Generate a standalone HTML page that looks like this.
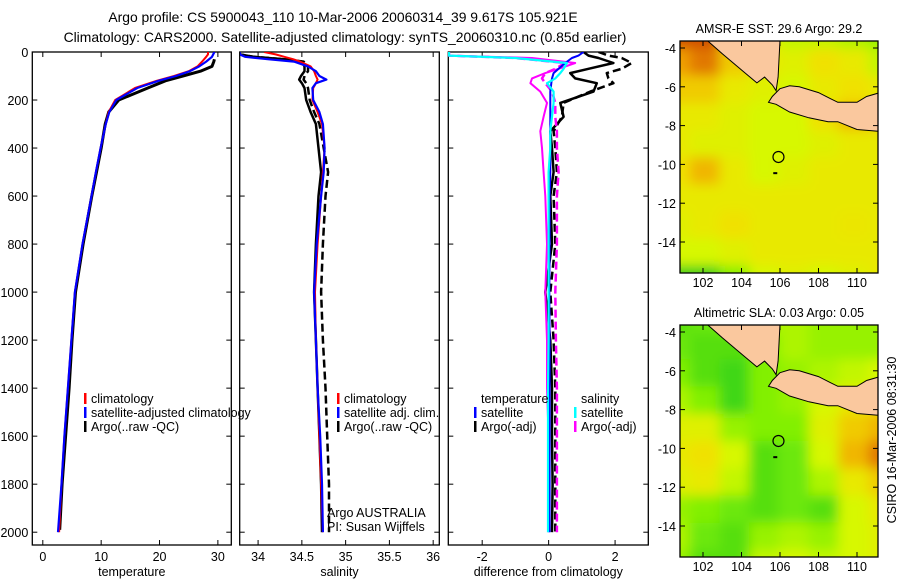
<!DOCTYPE html>
<html><head><meta charset="utf-8"><style>
html,body{margin:0;padding:0;background:#fff}
svg text{font-family:"Liberation Sans",sans-serif;fill:#000}
</style></head><body>
<svg id="fig" width="900" height="580" viewBox="0 0 900 580" xmlns="http://www.w3.org/2000/svg">
<defs>
<filter id="blur" x="-10%" y="-10%" width="120%" height="120%"><feGaussianBlur stdDeviation="6"/></filter>
<clipPath id="clipMap1"><rect x="680" y="41" width="198" height="232"/></clipPath>
<clipPath id="clipMap2"><rect x="680" y="325" width="198" height="232"/></clipPath>
<clipPath id="clipP1"><rect x="32" y="52" width="200" height="493"/></clipPath>
<clipPath id="clipP2"><rect x="240" y="52" width="200" height="493"/></clipPath>
<clipPath id="clipP3"><rect x="448" y="52" width="200" height="493"/></clipPath>
</defs>
<text x="343" y="22" font-size="13.9" text-anchor="middle">Argo profile: CS 5900043_110 10-Mar-2006 20060314_39 9.617S 105.921E</text>
<text x="345" y="42" font-size="13.9" text-anchor="middle">Climatology: CARS2000. Satellite-adjusted climatology: synTS_20060310.nc (0.85d earlier)</text>
<text transform="translate(896,440) rotate(-90)" font-size="12.5" text-anchor="middle">CSIRO 16-Mar-2006 08:31:30</text>
</svg>
<script>
// ---------- data ----------
const depthTicks = [0,200,400,600,800,1000,1200,1400,1600,1800,2000];
const tempTicks = [0,10,20,30];
const salTicks = [34,34.5,35,35.5,36];
const diffTicks = [-2,0,2];

const tDepth = [0,10,20,40,60,80,100,120,150,200,250,300,400,500,600,800,1000,1200,1400,1600,1800,2000];
const tClim =  [28.3,28.3,28.0,27.3,26.5,25.0,22.5,19.5,15.8,12.4,11.3,10.8,9.9,9.1,8.35,6.8,5.5,4.9,4.3,3.7,3.2,2.8];
const tSat =   [29.4,29.2,29.0,28.0,26.8,25.2,22.8,19.8,16.2,12.6,11.4,10.8,9.9,9.1,8.35,6.8,5.5,4.9,4.3,3.7,3.2,2.6];
const aDepth = [30,40,60,80,100,120,150,180,200,250,300,400,500,600,800,1000,1200,1400,1600,1800,1990];
const tArgo =  [29.4,29.3,29.0,27.0,24.0,21.0,18.0,15.0,13.0,11.3,10.7,10.0,9.2,8.4,6.9,5.6,5.0,4.5,3.9,3.3,2.9];

const sDepth = [0,10,20,30,40,60,80,100,115,130,150,200,250,300,400,500,600,800,1000,1200,1400,1600,1800,2000];
const sClim =  [34.07,34.20,34.30,34.40,34.48,34.60,34.64,34.66,34.68,34.66,34.63,34.62,34.68,34.73,34.76,34.74,34.72,34.68,34.65,34.66,34.68,34.70,34.72,34.74];
const sSat =   [33.79,33.79,33.85,34.11,34.41,34.57,34.66,34.70,34.78,34.66,34.62,34.63,34.70,34.74,34.76,34.75,34.72,34.67,34.64,34.66,34.68,34.71,34.73,34.74];
const sArgo =  [33.79,33.79,33.95,34.30,34.50,34.53,34.53,34.49,34.47,34.50,34.53,34.55,34.60,34.66,34.69,34.72,34.69,34.66,34.64,34.66,34.68,34.70,34.72,34.73];
const sArgoAdj=[33.79,33.79,33.95,34.30,34.52,34.57,34.57,34.53,34.52,34.55,34.57,34.59,34.64,34.70,34.75,34.80,34.77,34.74,34.72,34.74,34.77,34.79,34.81,34.81];

const dDepth = [0,15,25,46,70,88,110,130,165,212,270,330,400,500,600,800,1000,1200,1400,1600,1800,2000];
const dTempArgo =    [1.05,1.2,1.5,1.95,1.2,0.65,0.8,1.45,1.35,0.35,0.45,0.05,0.1,0.15,0.05,0.1,-0.1,0.05,0.1,0.1,0.12,0.1];
const dTempArgoAdj = [1.5,1.8,2.2,2.5,2.2,1.75,1.8,1.95,1.25,0.45,0.4,0.15,0.2,0.25,0.15,0.2,0.05,0.15,0.2,0.2,0.2,0.2];
const dTempSat =     [1.05,0.9,0.7,0.5,0.3,0.15,0.1,0.08,0.05,0.05,0.05,0.05,0.05,0.05,0.03,0.03,0.02,0.03,0.03,0.03,0.03,0.03];
const dSalSat =      [-3.0,-3.0,-1.0,0.55,0.45,0.35,0.2,-0.05,0.15,0.15,0.1,0.05,0.05,0.0,0.0,0.0,0.0,0.0,-0.02,-0.02,-0.02,-0.02];
const dSalArgo =     [-3.0,-3.0,-0.5,0.8,0.3,-0.1,-0.5,-0.55,-0.25,-0.05,-0.15,-0.25,-0.2,-0.15,-0.1,-0.05,-0.1,-0.05,-0.05,0.0,0.0,0.0];
const dSalArgoAdj =  [-3.0,-3.0,-1.0,0.5,0.2,-0.1,-0.2,-0.1,0.1,0.2,0.2,0.25,0.25,0.3,0.25,0.25,0.2,0.22,0.25,0.25,0.25,0.25];

const lonTicks = [102,104,106,108,110];
const latTicks = [-4,-6,-8,-10,-12,-14];
const sstGrid = [
 [.9,.9,.7,.6,.45,.45,.4,.35],
 [.8,.85,.7,.6,.55,.65,.6,.45],
 [.7,.7,.6,.55,.5,.6,.65,.6],
 [.6,.6,.55,.5,.5,.65,.75,.7],
 [.6,.55,.55,.5,.5,.55,.6,.6],
 [.65,.75,.6,.5,.55,.6,.6,.6],
 [.6,.6,.6,.6,.6,.6,.6,.6],
 [.55,.6,.65,.6,.6,.6,.62,.6],
 [.5,.5,.55,.6,.6,.6,.6,.6],
 [.1,.1,.3,.5,.55,.5,.55,.6]];
const slaGrid = [
 [.2,.25,.3,.4,.4,.35,.35,.35],
 [.25,.2,.2,.3,.4,.35,.35,.35],
 [.3,.2,.15,.3,.35,.4,.45,.5],
 [.4,.3,.15,.3,.35,.5,.6,.65],
 [.55,.55,.35,.3,.3,.55,.7,.75],
 [.6,.65,.5,.2,.25,.5,.75,.85],
 [.55,.6,.45,.2,.25,.4,.6,.7],
 [.35,.3,.25,.2,.25,.2,.5,.6],
 [.4,.25,.2,.35,.4,.35,.5,.55],
 [.35,.2,.2,.45,.5,.45,.5,.55]];
const sumatraLon = [102.2,103.0,104.2,104.8,105.2,105.6,105.8,105.9,106.0];
const sumatraLat = [-3.6,-4.3,-5.3,-5.8,-5.5,-5.9,-6.2,-5.5,-3.6];
const javaLon = [106.0,106.5,107.0,108.0,108.6,109.0,110.0,110.5,111.2,111.2,110.0,109.0,108.5,107.5,106.5,105.8,105.4,105.6];
const javaLat = [-6.1,-5.95,-6.0,-6.3,-6.6,-6.8,-6.8,-6.5,-6.3,-8.3,-8.2,-7.8,-7.8,-7.6,-7.3,-6.9,-6.8,-6.5];
const argoLon = 105.921, argoLat = -9.617;

// ---------- helpers ----------
const NS = "http://www.w3.org/2000/svg";
const svg = document.getElementById('fig');
function mk(tag, attrs, parent){ const e=document.createElementNS(NS,tag); for(const k in attrs) e.setAttribute(k,attrs[k]); (parent||svg).appendChild(e); return e; }
const yD = d => 52 + d*0.2401;

function axisPanel(name, x0, x1, xmin, xmax, ticks, fmt, label, showY){
  const xs = v => x0 + (v - xmin)/(xmax - xmin)*(x1 - x0);
  const g = mk('g',{});
  
  
  const fr = mk('rect',{x:x0,y:52,width:x1-x0,height:493,fill:'none',stroke:'#000','stroke-width':1.3},g);
  
  
  depthTicks.forEach(d=>{
    const y=yD(d);
    mk('line',{x1:x0,x2:x0+5,y1:y,y2:y,stroke:'#000'},g);
    mk('line',{x1:x1-5,x2:x1,y1:y,y2:y,stroke:'#000'},g);
    if(showY){ const t=mk('text',{x:x0-4,y:y+5,'font-size':12.5,'text-anchor':'end'},g); t.textContent=d;
      
       }
  });
  ticks.forEach(v=>{
    const x=xs(v);
    mk('line',{x1:x,x2:x,y1:52,y2:57,stroke:'#000'},g);
    mk('line',{x1:x,x2:x,y1:540,y2:545,stroke:'#000'},g);
    const t=mk('text',{x:x,y:561,'font-size':12.5,'text-anchor':'middle'},g); t.textContent=fmt(v);
    
    
  });
  const lb=mk('text',{x:(x0+x1)/2,y:576,'font-size':12.5,'text-anchor':'middle'},g); lb.textContent=label;
  
  
  return xs;
}
function series(name, xs, clip, vals, depths, color, w, dash){
  let d='';
  vals.forEach((v,i)=>{ d += (i?'L':'M') + xs(v).toFixed(1) + ',' + yD(depths[i]).toFixed(1); });
  const p = mk('path',{d:d,fill:'none',stroke:color,'stroke-width':w,'clip-path':'url(#'+clip+')','stroke-linejoin':'round'});
  if(dash) p.setAttribute('stroke-dasharray',dash);
  
  
}
function legend(name, x, y, color, text){
  const g = mk('g',{});
  
  
  if(color) mk('rect',{x:x,y:y-10,width:2.5,height:11,fill:color},g);
  const t = mk('text',{x:x+7,y:y,'font-size':12.5},g); t.textContent=text;
}

// ---------- panel 1: temperature ----------
const xT = axisPanel('temperature-panel',32.3,231.3,-1.8,32.3,tempTicks,v=>v,'temperature',true);
series('temp-argo',xT,'clipP1',tArgo,aDepth,'#000',3);
series('temp-climatology',xT,'clipP1',tClim,tDepth,'#f00',2);
series('temp-satellite-adjusted',xT,'clipP1',tSat,tDepth,'#00f',2.2);
legend('legend-climatology',84,403,'#f00','climatology');
legend('legend-satellite-adjusted',84,417,'#00f','satellite-adjusted climatology');
legend('legend-argo',84,431,'#000','Argo(..raw -QC)');

// ---------- panel 2: salinity ----------
const xS = axisPanel('salinity-panel',239.7,439.3,33.79,36.07,salTicks,v=>v,'salinity',false);
series('sal-argo',xS,'clipP2',sArgo,sDepth,'#000',2.5);
series('sal-argo-adjusted',xS,'clipP2',sArgoAdj,sDepth,'#000',2.5,'8,4');
series('sal-climatology',xS,'clipP2',sClim,sDepth,'#f00',2);
series('sal-satellite-adjusted',xS,'clipP2',sSat,sDepth,'#00f',2.2);
legend('legend-sal-climatology',337,403,'#f00','climatology');
legend('legend-sal-satellite',337,417,'#00f','satellite adj. clim.');
legend('legend-sal-argo',337,431,'#000','Argo(..raw -QC)');
legend('argo-australia-label',320,517,null,'Argo AUSTRALIA');
legend('pi-label',320,531,null,'PI: Susan Wijffels');

// ---------- panel 3: difference ----------
const xDf = axisPanel('difference-panel',448.3,648.3,-3.02,3.0,diffTicks,v=>v,'difference from climatology',false);
series('diff-temp-argo',xDf,'clipP3',dTempArgo,dDepth,'#000',2.5);
series('diff-temp-argo-adj',xDf,'clipP3',dTempArgoAdj,dDepth,'#000',2.5,'8,4');
series('diff-sal-argo',xDf,'clipP3',dSalArgo,dDepth,'#f0f',2);
series('diff-sal-argo-adj',xDf,'clipP3',dSalArgoAdj,dDepth,'#f0f',2.5,'8,4');
series('diff-temp-satellite',xDf,'clipP3',dTempSat,dDepth,'#00f',2);
series('diff-sal-satellite',xDf,'clipP3',dSalSat,dDepth,'#0ff',2.2);
legend('legend-temperature-heading',474,403,null,'temperature');
legend('legend-temp-satellite',474,417,'#00f','satellite');
legend('legend-temp-argo',474,431,'#000','Argo(-adj)');
legend('legend-salinity-heading',574,403,null,'salinity');
legend('legend-sal-sat',574,417,'#0ff','satellite');
legend('legend-sal-argo-adj',574,431,'#f0f','Argo(-adj)');

// ---------- maps ----------
const cmapStops = [[0,[0,190,40]],[0.3,[130,240,0]],[0.5,[215,248,0]],[0.65,[240,225,0]],[0.8,[240,160,0]],[0.9,[210,80,0]],[1,[175,0,0]]];
function cmap(v){
  for(let i=1;i<cmapStops.length;i++){
    if(v<=cmapStops[i][0]){ const a=cmapStops[i-1],b=cmapStops[i],t=(v-a[0])/(b[0]-a[0]);
      return 'rgb('+a[1].map((c,k)=>Math.round(c+(b[1][k]-c)*t)).join(',')+')'; }
  }
  return 'rgb(175,0,0)';
}
function drawMap(name, top, title, grid, clip){
  const x0=680,x1=878,y1=top+232;
  const lat0 = top===41 ? 48 : 332;
  const xL = lon => 703 + (lon-102)*19.25;
  const yL = lat => lat0 + (-4-lat)*19.4;
  const g = mk('g',{});
  
  
  const tt = mk('text',{x:779,y:top-8,'font-size':12.5,'text-anchor':'middle'},g); tt.textContent=title;
  
  
  const cg = mk('g',{'clip-path':'url(#'+clip+')'},g);
  const inner = mk('g',{filter:'url(#blur)'},cg);
  const rows=grid.length, cols=grid[0].length;
  const cw=(x1-x0+40)/cols, ch=(y1-top+40)/rows;
  grid.forEach((row,r)=>row.forEach((v,c)=>{
    const cell = mk('rect',{x:x0-20+c*cw,y:top-20+r*ch,width:cw+1,height:ch+1,fill:cmap(v)},inner);
    
    
  }));
  [[sumatraLon,sumatraLat,'sumatra'],[javaLon,javaLat,'java']].forEach(([lo,la,nm])=>{
    const pts = lo.map((v,i)=>xL(v).toFixed(1)+','+yL(la[i]).toFixed(1)).join(' ');
    const p = mk('polygon',{points:pts,fill:'#fac89e',stroke:'#000','stroke-width':1},cg);
    
    
  });
  const ci = mk('circle',{cx:xL(argoLon),cy:yL(argoLat),r:5.5,fill:'none',stroke:'#000','stroke-width':1.2},cg);
  
  
  mk('rect',{x:xL(105.65),y:yL(-10.4),width:4,height:2,fill:'#000'},cg);
  const fr = mk('rect',{x:x0,y:top,width:x1-x0,height:232,fill:'none',stroke:'#000','stroke-width':1.3},g);
  
  
  lonTicks.forEach(v=>{ const x=xL(v);
    mk('line',{x1:x,x2:x,y1:top,y2:top+5,stroke:'#000'},g);
    mk('line',{x1:x,x2:x,y1:y1-5,y2:y1,stroke:'#000'},g);
    const t=mk('text',{x:x,y:y1+14,'font-size':12.5,'text-anchor':'middle'},g); t.textContent=v;
    
    
  });
  latTicks.forEach(v=>{ const y=yL(v);
    mk('line',{x1:x0,x2:x0+5,y1:y,y2:y,stroke:'#000'},g);
    mk('line',{x1:x1-5,x2:x1,y1:y,y2:y,stroke:'#000'},g);
    const t=mk('text',{x:x0-4,y:y+5,'font-size':12.5,'text-anchor':'end'},g); t.textContent=v;
    
    
  });
}
drawMap('sst-map',41,'AMSR-E SST: 29.6 Argo: 29.2',sstGrid,'clipMap1');
drawMap('sla-map',325,'Altimetric SLA: 0.03 Argo: 0.05',slaGrid,'clipMap2');
</script>
</body></html>
